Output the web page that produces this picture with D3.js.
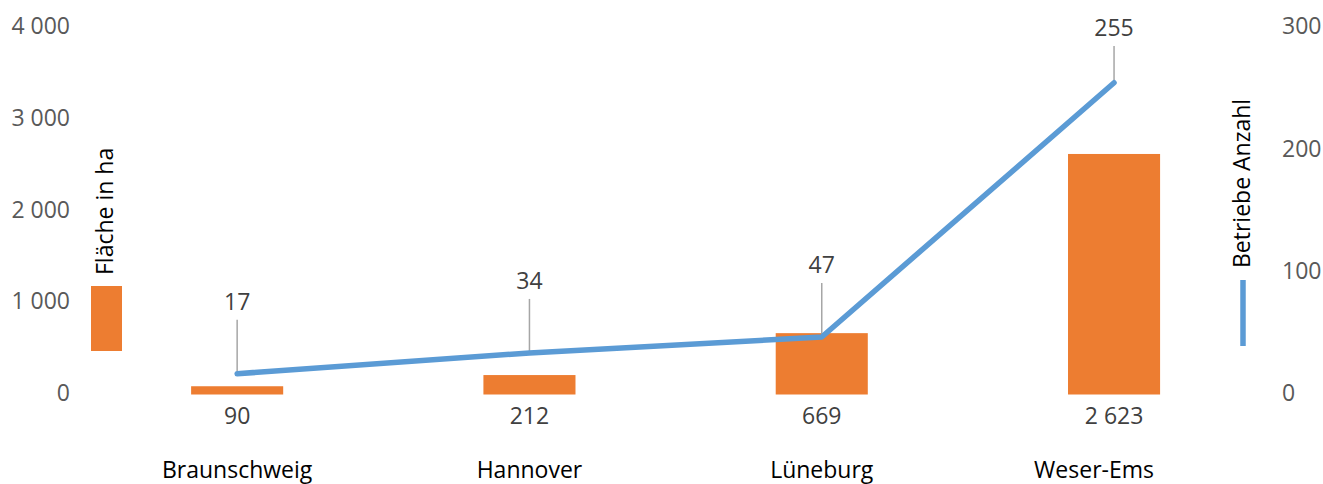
<!DOCTYPE html>
<html><head><meta charset="utf-8">
<script src="https://cdn.jsdelivr.net/npm/d3@7"></script>
<style>html,body{margin:0;padding:0;background:#fff;}svg{display:block;font-family:"Open Sans",sans-serif;}</style>
</head><body>
<svg id="c" width="1323" height="484"></svg>
<script>
const categories = ["Braunschweig", "Hannover", "Lüneburg", "Weser-Ems"];
const flaecheHa = [90, 212, 669, 2623];
const betriebeAnzahl = [17, 34, 47, 255];
const leftTicks = [0, 1000, 2000, 3000, 4000];
const rightTicks = [0, 100, 200, 300];
const barLegendLabel = "Fläche in ha";
const lineLegendLabel = "Betriebe Anzahl";

const svg = d3.select("#c");
const fmt = d3.formatLocale({decimal: ",", thousands: " ", grouping: [3], currency: ["", " €"]}).format(",d");

const x = d3.scaleBand().domain(categories).range([91, 1260.2]).paddingInner(0.685).paddingOuter(0.3425);
const yL = d3.scaleLinear().domain([0, 4000]).range([394.5, 27.7]);
const yR = d3.scaleLinear().domain([0, 300]).range([394.5, 27.7]);
const fs = 23;

// left axis labels
svg.append("g").selectAll("text").data(leftTicks).join("text")
  .attr("x", 70).attr("y", d => yL(d) + 6.6)
  .attr("text-anchor", "end").attr("font-size", fs).attr("fill", "#595959")
  .text(d => fmt(d));

// right axis labels
svg.append("g").selectAll("text").data(rightTicks).join("text")
  .attr("x", 1282).attr("y", d => yR(d) + 6.6)
  .attr("text-anchor", "start").attr("font-size", fs).attr("fill", "#595959")
  .text(d => fmt(d));

// bars
const bars = categories.map((c, i) => ({c, v: flaecheHa[i]}));
svg.append("g").selectAll("rect").data(bars).join("rect")
  .attr("x", d => x(d.c)).attr("width", x.bandwidth())
  .attr("y", d => yL(d.v)).attr("height", d => yL(0) - yL(d.v))
  .attr("fill", "#ED7D31");

// bar labels
svg.append("g").selectAll("text").data(bars).join("text")
  .attr("x", d => x(d.c) + x.bandwidth() / 2).attr("y", yL(0) + 29)
  .attr("text-anchor", "middle").attr("font-size", fs).attr("fill", "#404040")
  .text(d => fmt(d.v));

// line
const pts = categories.map((c, i) => ({c, v: betriebeAnzahl[i]}));
const cx = d => x(d.c) + x.bandwidth() / 2;
const lblBase = d => Math.max(yR(d.v) - 64, 36);

// leader lines
svg.append("g").selectAll("line").data(pts).join("line")
  .attr("x1", cx).attr("x2", cx)
  .attr("y1", d => lblBase(d) + 10).attr("y2", d => yR(d.v))
  .attr("stroke", "#A6A6A6").attr("stroke-width", 1.5);

svg.append("path").datum(pts)
  .attr("d", d3.line().x(cx).y(d => yR(d.v)))
  .attr("fill", "none").attr("stroke", "#5B9BD5").attr("stroke-width", 5.5)
  .attr("stroke-linecap", "round").attr("stroke-linejoin", "round");

// line labels
svg.append("g").selectAll("text").data(pts).join("text")
  .attr("x", cx).attr("y", lblBase)
  .attr("text-anchor", "middle").attr("font-size", fs).attr("fill", "#404040")
  .text(d => fmt(d.v));

// category labels (last one nudged left, as in the source)
svg.append("g").selectAll("text").data(categories).join("text")
  .attr("x", d => x(d) + x.bandwidth() / 2).attr("y", 478)
  .attr("dx", (d, i) => i === categories.length - 1 ? -20 : 0)
  .attr("text-anchor", "middle").attr("font-size", fs).attr("fill", "#000")
  .text(d => d);

// legends
svg.append("rect").attr("x", 91).attr("y", 286).attr("width", 31).attr("height", 65).attr("fill", "#ED7D31");
svg.append("text").attr("transform", "translate(113,275) rotate(-90)")
  .attr("font-size", fs).attr("fill", "#000").text(barLegendLabel);

svg.append("line").attr("x1", 1243).attr("x2", 1243).attr("y1", 280).attr("y2", 346)
  .attr("stroke", "#5B9BD5").attr("stroke-width", 5.5);
svg.append("text").attr("transform", "translate(1250,268) rotate(-90)")
  .attr("font-size", fs).attr("fill", "#000").text(lineLegendLabel);
</script>
</body></html>
